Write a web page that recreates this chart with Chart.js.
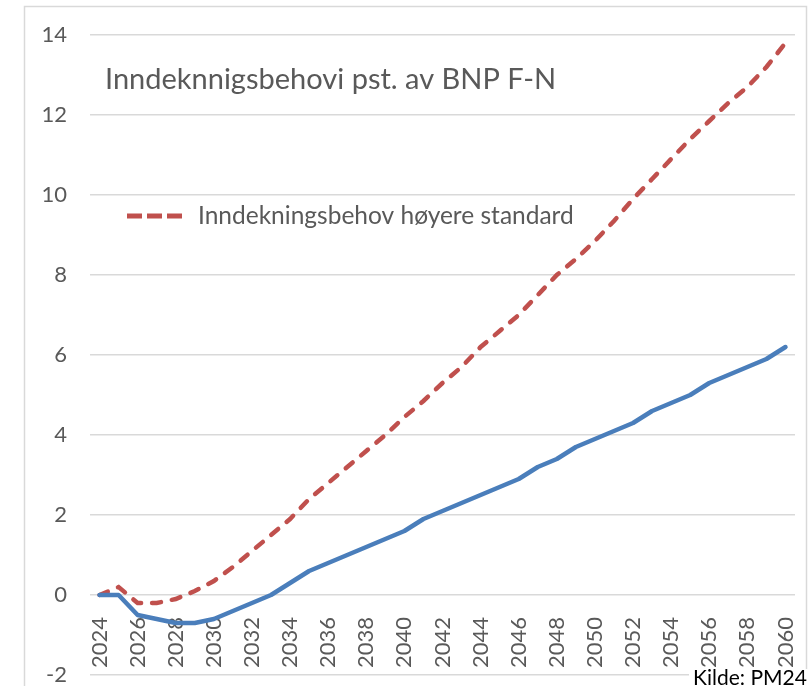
<!DOCTYPE html>
<html>
<head>
<meta charset="utf-8">
<script src="https://cdn.jsdelivr.net/npm/chart.js@4"></script>
<style>
    html, body { margin: 0; padding: 0; background: #fff; }
    #wrap { width: 810px; height: 686px; position: relative; }
</style>
</head>
<body>
<div id="wrap"><canvas id="chart"></canvas></div>
<script>
// Data
const years = [];
for (let y = 2024; y <= 2060; y++) years.push(String(y));

const basisValues = [
    0, 0, -0.5, -0.6, -0.7, -0.7, -0.6, -0.4, -0.2, 0,
    0.3, 0.6, 0.8, 1.0, 1.2, 1.4, 1.6, 1.9, 2.1, 2.3,
    2.5, 2.7, 2.9, 3.2, 3.4, 3.7, 3.9, 4.1, 4.3, 4.6,
    4.8, 5.0, 5.3, 5.5, 5.7, 5.9, 6.2
];
const hoyereValues = [
    0, 0.2, -0.2, -0.2, -0.1, 0.1, 0.35, 0.7, 1.1, 1.5,
    1.9, 2.4, 2.8, 3.2, 3.6, 4.0, 4.45, 4.85, 5.3, 5.7,
    6.2, 6.6, 7.0, 7.5, 8.0, 8.4, 8.85, 9.35, 9.9, 10.4,
    10.9, 11.4, 11.85, 12.3, 12.7, 13.2, 13.8
];

const titleText = 'Inndeknnigsbehovi pst. av BNP F-N';
const legendText = 'Inndekningsbehov høyere standard';
const sourceText = 'Kilde: PM24';

const textColor = '#595959';
const gridColor = '#d9d9d9';
const blue = '#4a7ebb';
const red = '#c0504d';

// Frame, title, legend and source note
const decorations = {
    id: 'decorations',
    beforeDraw(chart) {
        const ctx = chart.ctx;
        ctx.save();
        ctx.strokeStyle = gridColor;
        ctx.lineWidth = 1.5;
        ctx.strokeRect(24.5, 6.5, 782, 700);
        ctx.restore();
    },
    afterDraw(chart) {
        const ctx = chart.ctx;
        ctx.save();
        ctx.fillStyle = textColor;
        ctx.font = '29px Lato';
        ctx.textBaseline = 'alphabetic';
        ctx.fillText(titleText, 105, 89);

        // legend entry for the dashed series
        ctx.strokeStyle = red;
        ctx.lineWidth = 5;
        ctx.lineCap = 'butt';
        ctx.setLineDash([15, 5]);
        ctx.beginPath();
        ctx.moveTo(127, 216);
        ctx.lineTo(183, 216);
        ctx.stroke();
        ctx.setLineDash([]);
        ctx.font = '24.5px Lato';
        ctx.fillText(legendText, 198, 224);

        // source note
        ctx.font = '21px Lato';
        const w = ctx.measureText(sourceText).width;
        ctx.fillStyle = '#fff';
        ctx.fillRect(689, 669, w + 8, 20);
        ctx.fillStyle = '#000';
        ctx.fillText(sourceText, 693, 685);
        ctx.restore();
    }
};

function noPadding(scale) {
    scale.paddingLeft = 0;
    scale.paddingRight = 0;
    scale.paddingTop = 0;
    scale.paddingBottom = 0;
}

const ctx = document.getElementById('chart').getContext('2d');
new Chart(ctx, {
    type: 'line',
    data: {
        labels: years,
        datasets: [
            {
                label: 'Inndekningsbehov',
                data: basisValues,
                borderColor: blue,
                backgroundColor: blue,
                borderWidth: 4.5,
                pointRadius: 0,
                borderCapStyle: 'round',
                borderJoinStyle: 'round',
                tension: 0
            },
            {
                label: legendText,
                data: hoyereValues,
                borderColor: red,
                backgroundColor: red,
                borderWidth: 4.5,
                borderDash: [9, 11],
                borderCapStyle: 'round',
                pointRadius: 0,
                tension: 0
            }
        ]
    },
    options: {
        responsive: true,
        maintainAspectRatio: false,
        animation: false,
        layout: {
            padding: { left: 0, right: 15, top: 35, bottom: 11 }
        },
        scales: {
            x: {
                type: 'category',
                position: { y: 0 },
                offset: true,
                afterFit: function (scale) { scale.height = 0; noPadding(scale); },
                grid: { display: false },
                border: { display: false },
                ticks: {
                    autoSkip: false,
                    minRotation: 90,
                    maxRotation: 90,
                    padding: 14,
                    color: textColor,
                    font: { family: 'Lato', size: 22 },
                    callback: function (value, index) {
                        return index % 2 === 0 ? this.getLabelForValue(value) : '';
                    }
                }
            },
            y: {
                min: -2,
                max: 14,
                afterFit: function (scale) { scale.width = 90; noPadding(scale); },
                grid: {
                    color: gridColor,
                    lineWidth: 1.5,
                    drawTicks: false
                },
                border: { display: false },
                ticks: {
                    stepSize: 2,
                    padding: 23,
                    color: textColor,
                    font: { family: 'Lato', size: 22 }
                }
            }
        },
        plugins: {
            legend: { display: false },
            tooltip: { enabled: false }
        }
    },
    plugins: [decorations]
});
</script>
</body>
</html>
